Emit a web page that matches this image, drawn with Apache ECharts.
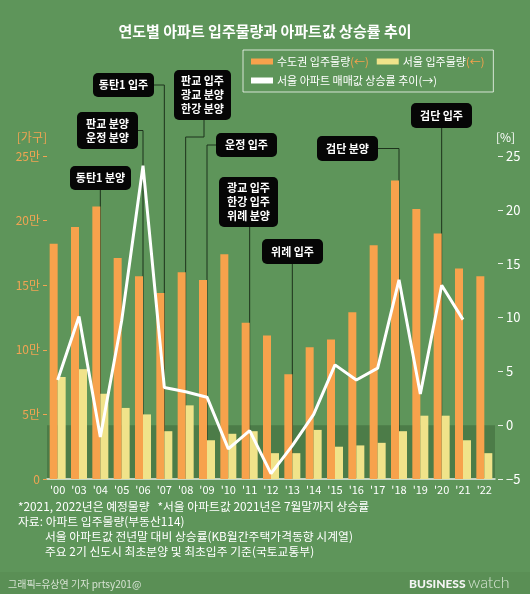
<!DOCTYPE html>
<html><head><meta charset="utf-8">
<script src="https://cdn.jsdelivr.net/npm/echarts@6/dist/echarts.min.js"></script>
<style>html,body{margin:0;padding:0;background:#5e955a}#c{width:530px;height:594px}</style>
</head><body><div id="c"></div>
<script>
const FONT = "'Noto Sans CJK KR', 'Noto Sans', sans-serif";
// ---- data ----
const categories = ["'00","'03","'04","'05","'06","'07","'08","'09","'10","'11","'12","'13","'14","'15","'16","'17","'18","'19","'20","'21","'22"];
const capitalSupply = [182000,195000,211000,171000,157000,144000,160000,154000,174000,121000,111000,81000,102000,108000,129000,181000,231000,209000,190000,163000,157000];
const seoulSupply = [79000,85000,66000,55000,50000,37000,57000,30000,35000,37000,20000,20000,38000,25000,26000,28000,37000,49000,49000,30000,20000];
const seoulPriceChange = [4.2,10.1,-1.1,9.7,24.1,3.5,3.1,2.6,-2.2,-0.5,-4.5,-1.9,1.0,5.6,4.2,5.3,13.5,2.9,13.0,9.8,null];
const seriesNames = ['수도권 입주물량','서울 입주물량','서울 아파트 매매값 상승률 추이'];
const leftAxisTicks = [0,50000,100000,150000,200000,250000];
const rightAxisTicks = [-5,0,5,10,15,20,25];
const annoCats = ["'04","'06","'07","'08","'09","'11","'13","'18","'20"];
const annoTexts = ["동탄1 분양","판교 분양\n운정 분양","동탄1 입주","판교 입주\n광교 분양\n한강 분양","운정 입주","광교 입주\n한강 입주\n위례 분양","위례 입주","검단 분양","검단 입주"];
const titleText = '연도별 아파트 입주물량과 아파트값 상승률 추이';
const notes = ['*2021, 2022년은 예정물량   *서울 아파트값 2021년은 7월말까지 상승률','자료: 아파트 입주물량(부동산114)','서울 아파트값 전년말 대비 상승률(KB월간주택가격동향 시계열)','주요 2기 신도시 최초분양 및 최초입주 기준(국토교통부)'];
const credit = '그래픽=유상연 기자 prtsy201@';

// ---- layout (boxes for annotations) ----
const annoLayout = [
  {x:70,y:166,w:61,h:24,from:'bottom'},
  {x:77,y:112,w:61,h:37,from:'right'},
  {x:93,y:73,w:61,h:24,from:'right'},
  {x:174,y:70,w:57,h:50,from:'bottomElbow',fx:204,ey:137},
  {x:216,y:133,w:61,h:24,from:'left'},
  {x:219,y:177,w:59,h:50,from:'bottom'},
  {x:262,y:239,w:61,h:25,from:'bottom'},
  {x:317,y:136,w:61,h:25,from:'right'},
  {x:411,y:103,w:61,h:25,from:'bottom'}
];

const ORANGE = '#f7a24c', YELLOW = '#f0e38a', AXORANGE = '#f1a453';
const chart = echarts.init(document.getElementById('c'));
chart.setOption({
  backgroundColor: '#5e955a',
  animation: false,
  textStyle: {fontFamily: FONT},
  title: {text: titleText, left: 'center', top: 19, textStyle: {color:'#fff', fontSize:15, fontWeight:'bold', fontFamily: FONT}},
  legend: {
    left: 243, top: 50, width: 262, padding: [6,9,6,8], itemGap: 8,
    itemWidth: 22, itemHeight: 6, icon: 'rect', selectedMode: false,
    borderColor: 'rgba(255,255,255,0.75)', borderWidth: 1,
    data: [
      {name: seriesNames[0], textStyle: {padding: [0, 10, 0, -1]}},
      {name: seriesNames[1]},
      {name: seriesNames[2]}
    ],
    formatter: function (n) { return n === seriesNames[2] ? '{w|' + n + '(→)}' : '{w|' + n + '}{o|(←)}'; },
    textStyle: {color:'#fff', fontSize: 11, fontFamily: FONT, padding:[0,0,0,-1],
      rich: {w:{color:'#fff', fontSize:11, fontFamily: FONT}, o:{color: ORANGE, fontSize:11, fontFamily: FONT}}}
  },
  grid: {left: 47, right: 35, top: 156, bottom: 115},
  xAxis: {
    type: 'category', data: categories,
    axisLine: {lineStyle: {color: '#e9efe7', width: 1.5}},
    axisTick: {show: false},
    axisLabel: {color: '#fff', fontSize: 11, margin: 5, interval: 0, fontFamily: FONT}
  },
  yAxis: [
    {type:'value', min: leftAxisTicks[0], max: leftAxisTicks[leftAxisTicks.length-1], interval: 50000,
     splitLine:{show:false}, axisLine:{show:false},
     axisTick:{show:true, length:4, lineStyle:{color: AXORANGE, width:1}},
     axisLabel:{color: AXORANGE, fontSize:12, margin:7, fontFamily: FONT, formatter: v => v === 0 ? '0' : (v/10000) + '만'},
     name:'[가구]', nameLocation:'end', nameGap: 13,
     nameTextStyle:{color: AXORANGE, fontSize:12, align:'right', fontFamily: FONT}},
    {type:'value', position:'right', offset: 3, min: rightAxisTicks[0], max: rightAxisTicks[rightAxisTicks.length-1], interval: 5,
     splitLine:{show:false}, axisLine:{show:false},
     axisTick:{show:true, length:5, lineStyle:{color:'#e8efe6', width:1}},
     axisLabel:{color:'#fff', fontSize:13, margin:8, fontFamily: FONT, formatter: v => v < 0 ? '−' + Math.abs(v) : '' + v},
     name:'[%]', nameLocation:'end', nameGap: 13,
     nameTextStyle:{color:'#fff', fontSize:12, align:'left', padding:[0,0,0,-2], fontFamily: FONT}}
  ],
  series: [
    {name: seriesNames[0], type:'bar', data: capitalSupply, barWidth: 8, barGap: '0%', itemStyle:{color: ORANGE}, z: 3},
    {name: seriesNames[1], type:'bar', data: seoulSupply, barWidth: 8, barGap: '0%', itemStyle:{color: YELLOW}, z: 3},
    {name: seriesNames[2], type:'line', yAxisIndex: 1, data: seoulPriceChange, symbol:'none',
     lineStyle:{color:'#ffffff', width: 3}, itemStyle:{color:'#ffffff'}, z: 6}
  ]
});

// ---- graphics computed from the axes ----
const cx = c => chart.convertToPixel({xAxisIndex:0}, c);
const bw = cx(categories[1]) - cx(categories[0]);
const plotL = cx(categories[0]) - bw/2;
const plotR = cx(categories[categories.length-1]) + bw/2;
const yZero = chart.convertToPixel({yAxisIndex:1}, 0);
const yMin = chart.convertToPixel({yAxisIndex:1}, -5);
const g = [];
g.push({type:'rect', z:0, shape:{x:plotL, y:yZero, width:plotR-plotL, height:yMin-yZero}, style:{fill:'#4c7c48'}});
g.push({type:'rect', z:0, shape:{x:0, y:572, width:530, height:22}, style:{fill:'#5a8f55'}});
annoCats.forEach((c, i) => {
  const L = annoLayout[i];
  const x = cx(c);
  let pts;
  if (L.from === 'bottom') pts = [[x, L.y + L.h], [x, yMin]];
  else if (L.from === 'right') pts = [[L.x + L.w, L.y + L.h/2], [x, L.y + L.h/2], [x, yMin]];
  else if (L.from === 'left') pts = [[L.x, L.y + L.h/2], [x, L.y + L.h/2], [x, yMin]];
  else pts = [[L.fx, L.y + L.h], [L.fx, L.ey], [x, L.ey], [x, yMin]];
  g.push({type:'polyline', z:1, shape:{points: pts}, style:{stroke:'#1d331c', lineWidth:1, fill:null}});
  g.push({type:'rect', z:20, shape:{x:L.x, y:L.y, width:L.w, height:L.h, r:5}, style:{fill:'#060606'}});
  g.push({type:'text', z:21, x: L.x + L.w/2, y: L.y + L.h/2,
    style:{text: annoTexts[i], fill:'#fff', font:'bold 11px ' + FONT, textAlign:'center', textVerticalAlign:'middle', lineHeight:14}});
});
const noteStyle = {fill:'#fff', font:'11.8px ' + FONT, textVerticalAlign:'middle'};
g.push({type:'text', z:5, x:18, y:507, style:Object.assign({text: notes[0]}, noteStyle)});
g.push({type:'text', z:5, x:18, y:522, style:Object.assign({text: notes[1]}, noteStyle)});
g.push({type:'text', z:5, x:45, y:537, style:Object.assign({text: notes[2]}, noteStyle)});
g.push({type:'text', z:5, x:45, y:552, style:Object.assign({text: notes[3]}, noteStyle)});
g.push({type:'text', z:5, x:8, y:584, style:{text: credit, fill:'#d6e2d3', font:'10px ' + FONT, textVerticalAlign:'middle'}});
g.push({type:'text', z:5, x:409, y:584, style:{text:'BUSINESS', fill:'#f4f4f4', font:'900 12px Lato, ' + FONT, textVerticalAlign:'middle'}});
g.push({type:'text', z:5, x:468, y:583, style:{text:'watch', fill:'#d9e6d6', font:'300 16px Lato, ' + FONT, textVerticalAlign:'middle'}});
chart.setOption({graphic: g});
</script></body></html>
